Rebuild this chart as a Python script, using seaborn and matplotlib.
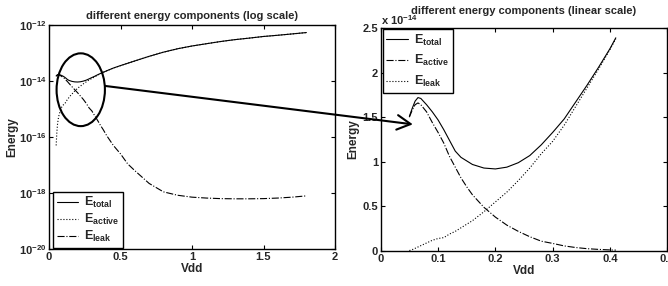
import numpy as np
import pandas as pd
import matplotlib
matplotlib.use("Agg")
import matplotlib.pyplot as plt
import seaborn as sns
from matplotlib.patches import Ellipse, ConnectionPatch
from matplotlib.ticker import FixedLocator, FuncFormatter, NullLocator

# supply voltage (V)
vdd = [0.05, 0.055, 0.06, 0.065, 0.07, 0.08, 0.09, 0.10, 0.11, 0.12, 0.13, 0.14,
       0.15, 0.16, 0.18, 0.20, 0.22, 0.24, 0.26, 0.28, 0.30, 0.32, 0.34, 0.36,
       0.38, 0.40, 0.41, 0.45, 0.5, 0.55, 0.6, 0.7, 0.8, 0.9, 1.0, 1.1, 1.2,
       1.3, 1.4, 1.5, 1.6, 1.7, 1.8]

# energies in units of 1e-14 J
e_total = [1.51, 1.60, 1.68, 1.72, 1.71, 1.64, 1.56, 1.47, 1.36, 1.24, 1.12, 1.05,
           1.01, 0.97, 0.93, 0.92, 0.94, 0.99, 1.07, 1.19, 1.33, 1.48, 1.67, 1.86,
           2.06, 2.27, 2.39, 2.9, 3.55, 4.3, 5.2, 7.6, 10.7, 14.2, 17.8, 21.4, 25.7,
           30.0, 34.0, 38.9, 43.0, 48.0, 53.7]
e_active = [0.005, 0.015, 0.03, 0.045, 0.06, 0.09, 0.12, 0.14, 0.15, 0.19, 0.22, 0.26,
            0.30, 0.34, 0.44, 0.55, 0.66, 0.79, 0.93, 1.09, 1.23, 1.41, 1.62, 1.83,
            2.04, 2.26, 2.38, 2.89, 3.54, 4.3, 5.2, 7.6, 10.7, 14.2, 17.8, 21.4, 25.7,
            30.0, 34.0, 38.9, 43.0, 48.0, 53.7]
e_leak = [1.50, 1.58, 1.64, 1.66, 1.64, 1.56, 1.44, 1.33, 1.21, 1.06, 0.94, 0.82,
          0.72, 0.63, 0.49, 0.38, 0.29, 0.22, 0.16, 0.11, 0.085, 0.057, 0.039, 0.026,
          0.018, 0.012, 0.010, 0.005, 0.0025, 0.0011, 6.3e-4, 2.2e-4, 1.1e-4, 8.3e-5,
          7.1e-5, 6.6e-5, 6.3e-5, 6.2e-5, 6.2e-5, 6.3e-5, 6.6e-5, 7.1e-5, 7.9e-5]

unit = 1e-14
df = pd.DataFrame({
    "Vdd": vdd,
    "total": np.array(e_total) * unit,
    "active": np.array(e_active) * unit,
    "leak": np.array(e_leak) * unit,
})
df_zoom = df[df["Vdd"] <= 0.41]

sns.set_theme(style="ticks")
plt.rcParams.update({
    "font.family": ["Liberation Sans", "DejaVu Sans"],
    "font.weight": "bold",
    "mathtext.fontset": "custom",
    "mathtext.rm": "Liberation Sans:bold",
    "mathtext.it": "Liberation Sans:bold",
    "mathtext.bf": "Liberation Sans:bold",
    "mathtext.default": "bf",
    "axes.edgecolor": "black",
    "axes.linewidth": 1.0,
})

fig = plt.figure(figsize=(6.68, 2.86), dpi=100)
ax1 = fig.add_axes([49 / 668, 37 / 286, 286 / 668, 224 / 286])
ax2 = fig.add_axes([380.7 / 668, 35 / 286, 286.7 / 668, 223 / 286])

# log-scale panel
for col, label, ls in [("total", r"$E_{total}$", "-"),
                       ("active", r"$E_{active}$", ":"),
                       ("leak", r"$E_{leak}$", "-.")]:
    sns.lineplot(data=df, x="Vdd", y=col, ax=ax1, color="black", linestyle=ls,
                 linewidth=0.8, label=label, sort=False, estimator=None)

# linear-scale panel (legend kept as in the original figure)
for col, label, ls in [("total", r"$E_{total}$", "-"),
                       ("leak", r"$E_{active}$", "-."),
                       ("active", r"$E_{leak}$", ":")]:
    sns.lineplot(data=df_zoom, x="Vdd", y=col, ax=ax2, color="black", linestyle=ls,
                 linewidth=0.8, label=label, sort=False, estimator=None)

ax1.set_yscale("log")
ax1.set_xlim(0, 2)
ax1.set_ylim(1e-20, 1e-12)
ax1.yaxis.set_major_locator(FixedLocator([1e-20, 1e-18, 1e-16, 1e-14, 1e-12]))
ax1.yaxis.set_minor_locator(NullLocator())
ax1.yaxis.set_major_formatter(FuncFormatter(lambda v, p: r"$10^{%d}$" % int(round(np.log10(v)))))
ax1.xaxis.set_major_locator(FixedLocator([0, 0.5, 1, 1.5, 2]))
ax1.xaxis.set_major_formatter(FuncFormatter(lambda v, p: "%g" % v))

ax2.set_xlim(0, 0.5)
ax2.set_ylim(0, 2.5e-14)
ax2.xaxis.set_major_locator(FixedLocator([0, 0.1, 0.2, 0.3, 0.4, 0.5]))
ax2.xaxis.set_major_formatter(FuncFormatter(lambda v, p: "%g" % round(v, 2)))
ax2.yaxis.set_major_locator(FixedLocator(np.arange(0, 2.51, 0.5) * unit))
ax2.yaxis.set_major_formatter(FuncFormatter(lambda v, p: "%g" % round(v / unit, 2)))
ax2.text(0.0, 1.005, r"x $10^{-14}$", transform=ax2.transAxes, ha="left", va="bottom",
         fontsize=8, fontweight="bold")

for ax, title, tpad, ypad in [(ax1, "different energy components (log scale)", 4, 0),
                              (ax2, "different energy components (linear scale)", 10, 2)]:
    ax.tick_params(which="both", direction="in", top=True, right=True, bottom=True,
                   left=True, length=3, width=0.8, labelsize=8, pad=2, color="black")
    ax.set_title(title, fontsize=8, fontweight="bold", pad=tpad)
    ax.set_xlabel("Vdd", fontsize=8.5, fontweight="bold", labelpad=1)
    ax.set_ylabel("Energy", fontsize=8.5, fontweight="bold", labelpad=ypad)
    for s in ax.spines.values():
        s.set_color("black")
        s.set_linewidth(1.0)

leg1 = ax1.legend(loc="lower left", bbox_to_anchor=(0.014, 0.004), borderaxespad=0,
                  fancybox=False, edgecolor="black", framealpha=1, fontsize=9,
                  handlelength=1.7, handletextpad=0.5, labelspacing=0.15, borderpad=0.3)
leg2 = ax2.legend(loc="upper left", bbox_to_anchor=(0.007, 0.996), borderaxespad=0,
                  fancybox=False, edgecolor="black", framealpha=1, fontsize=9,
                  handlelength=1.7, handletextpad=0.5, labelspacing=0.45, borderpad=0.3)
for leg in (leg1, leg2):
    leg.get_frame().set_linewidth(1.0)

# ellipse around the low-voltage region and arrow to the zoomed panel
ax1.add_patch(Ellipse((0.111, 0.711), 0.169, 0.325, transform=ax1.transAxes,
                      fill=False, ec="black", lw=1.5, clip_on=False))
con = ConnectionPatch(xyA=(0.196, 0.728), coordsA=ax1.transAxes,
                      xyB=(0.056, 1.42e-14), coordsB=ax2.transData,
                      arrowstyle="->,head_length=0.65,head_width=0.35",
                      mutation_scale=15, lw=1.5, color="black", shrinkA=0, shrinkB=0)
fig.add_artist(con)

fig.savefig("out.png", dpi=100)
